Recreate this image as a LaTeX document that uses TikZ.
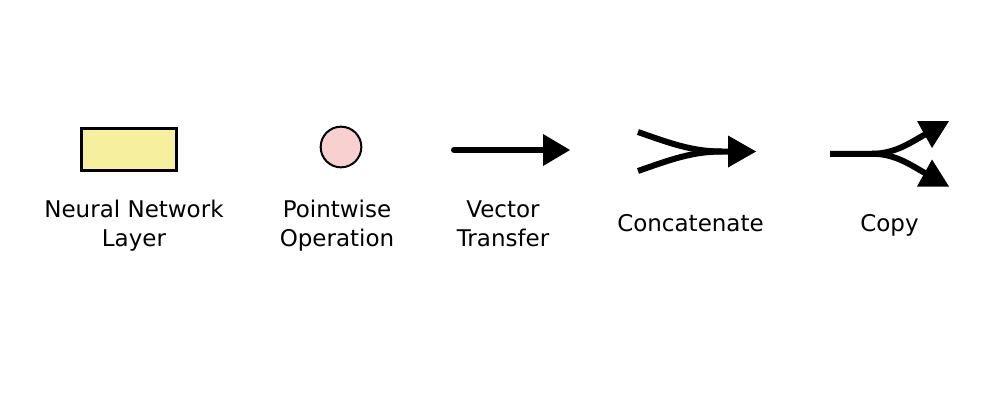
\documentclass[tikz,border=0pt]{standalone}
\usepackage{fontspec}
\setmainfont{DejaVu Sans}
\begin{document}
\begin{tikzpicture}[x=0.75pt,y=-0.75pt,
  lbl/.style={font=\fontsize{17.25}{21.75}\selectfont, align=center, inner sep=0pt},
  flow/.style={line width=4.5pt},
  head/.style={fill=black, draw=none}]
\useasboundingbox (0,0) rectangle (1000,400);
\definecolor{layerfill}{RGB}{245,239,158}
\definecolor{opfill}{RGB}{249,208,208}
% Neural network layer
\node[draw=black, line width=2.25pt, fill=layerfill, minimum width=71pt, minimum height=31pt, inner sep=0pt] (layer) at (129,149.5) {};
\node[lbl] (layerlbl) at (134,225.7) {\strut Neural Network\\\strut Layer};
% Pointwise operation
\node[circle, draw=black, line width=1.5pt, fill=opfill, minimum size=30.5pt, inner sep=0pt] (op) at (341,147) {};
\node[lbl] (oplbl) at (337,225.7) {\strut Pointwise\\\strut Operation};
% Vector transfer
\coordinate (vs) at (454,150);
\coordinate (ve) at (545,150);
\draw[flow, line cap=round] (vs) -- (ve);
\fill[head] (543,134) -- (570,150) -- (543,166) -- cycle;
\node[lbl] (veclbl) at (503,225.7) {\strut Vector\\\strut Transfer};
% Concatenate
\coordinate (ca) at (638,132);
\coordinate (cb) at (638,171);
\coordinate (cm) at (722,151.5);
\coordinate (ce) at (731,151.5);
\draw[flow] (ca) .. controls (672,144) and (693,151.5) .. (cm) -- (ce);
\draw[flow] (cb) .. controls (672,159) and (693,151.5) .. (cm);
\fill[head] (728,135.5) -- (756,151.5) -- (728,167.5) -- cycle;
\node[lbl, anchor=base] (catlbl) at (690.5,231) {Concatenate};
% Copy
\coordinate (ps) at (830,153.75);
\coordinate (pm) at (872,153.75);
\coordinate (pu) at (927,133.4);
\coordinate (pl) at (927,174.1);
\draw[flow] (ps) -- (pm) .. controls (896,153.75) and (911,142) .. (pu);
\draw[flow] (pm) .. controls (896,153.75) and (911,165.5) .. (pl);
\fill[head] (949,121) -- (917,121) -- (932,148) -- cycle;
\fill[head] (949,186.5) -- (917,186.5) -- (932,159.5) -- cycle;
\node[lbl, anchor=base] (copylbl) at (889.5,231) {Copy};
\end{tikzpicture}
\end{document}
